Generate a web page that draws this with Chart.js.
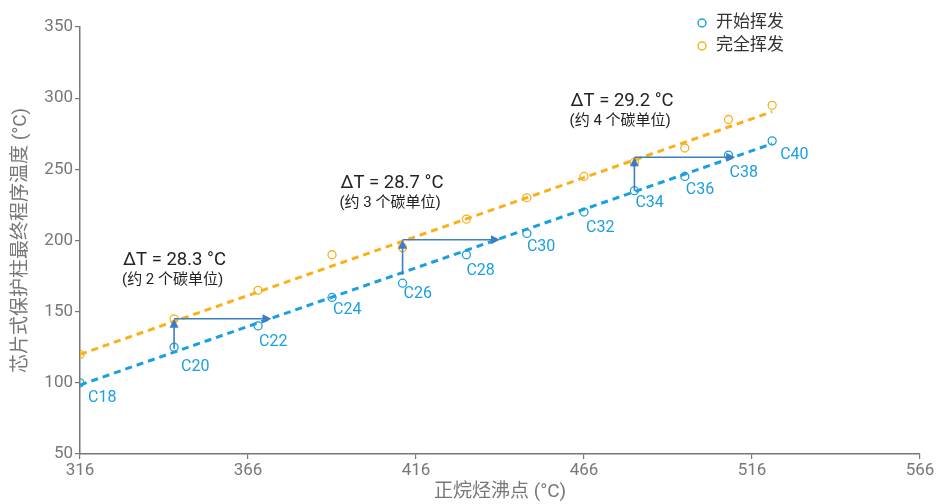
<!DOCTYPE html>
<html>
<head>
<meta charset="utf-8">
<script src="https://cdn.jsdelivr.net/npm/chart.js@4.4.1/dist/chart.umd.min.js"></script>
<style>
html, body { margin: 0; padding: 0; background: #fff; }
#wrap { width: 939px; height: 504px; }
</style>
</head>
<body>
<div id="wrap"><canvas id="c"></canvas></div>
<script>
// data
const carbons = ['C18','C20','C22','C24','C26','C28','C30','C32','C34','C36','C38','C40'];
const boilPts = [316, 344, 369, 391, 412, 431, 449, 466, 481, 496, 509, 522];
const startTemps = [100, 125, 140, 160, 170, 190, 205, 220, 235, 245, 260, 270];
const fullTemps = [120, 145, 165, 190, 195, 215, 230, 245, 255, 265, 285, 295];
const trendX = [316, 522];
const startTrend = [98.5, 268];
const fullTrend = [120, 290.5];
const xTicks = [316, 366, 416, 466, 516, 566];
const yTicks = [50, 100, 150, 200, 250, 300, 350];
const seriesNames = ['开始挥发', '完全挥发'];

// delta T notes
const gapLabels = ['ΔT = 28.3 °C', 'ΔT = 28.7 °C', 'ΔT = 29.2 °C'];
const gapNotes = ['(约 2 个碳单位)', '(约 3 个碳单位)', '(约 4 个碳单位)'];
const arrowX = [344, 412, 481];
const arrowLow = [124, 176, 235];
const arrowHigh = [145, 200.5, 258.5];
const arrowEnd = [373, 441, 511];
const noteX = [328.8, 393.5, 462];
const noteY = [186, 240, 298];

const BLUE = '#1a9fe0';
const ORANGE = '#f9b11b';
const ARROW = '#3c7ec3';
const GREY = '#777';
const FONT = "Roboto, 'Noto Sans CJK SC', sans-serif";

// label nudges (px) for the carbon tags
const labelShift = [[8,15],[7,20],[1,16],[1,13],[1,11],[0,16],[0,14],[2,16],[1,12],[1,14],[1,18],[8,14]];

function arrowHead(ctx, x, y, dir) {
    const L = 9, W = 4.5;
    ctx.beginPath();
    if (dir === 'up') {
        ctx.moveTo(x, y);
        ctx.lineTo(x - W, y + L);
        ctx.lineTo(x + W, y + L);
    } else {
        ctx.moveTo(x, y);
        ctx.lineTo(x - L, y - W);
        ctx.lineTo(x - L, y + W);
    }
    ctx.closePath();
    ctx.fill();
}

const extras = {
    id: 'extras',
    afterDatasetsDraw(chart) {
        const ctx = chart.ctx;
        const xs = chart.scales.x, ys = chart.scales.y;
        ctx.save();

        // arrows
        ctx.strokeStyle = ARROW;
        ctx.fillStyle = ARROW;
        ctx.lineWidth = 1.6;
        for (let i = 0; i < arrowX.length; ++i) {
            const px = xs.getPixelForValue(arrowX[i]);
            const pLow = ys.getPixelForValue(arrowLow[i]);
            const pHigh = ys.getPixelForValue(arrowHigh[i]);
            const pEnd = xs.getPixelForValue(arrowEnd[i]);
            ctx.beginPath();
            ctx.moveTo(px, pLow);
            ctx.lineTo(px, pHigh + 4);
            ctx.moveTo(px, pHigh);
            ctx.lineTo(pEnd - 4, pHigh);
            ctx.stroke();
            arrowHead(ctx, px, pHigh, 'up');
            arrowHead(ctx, pEnd, pHigh, 'right');
        }

        // carbon tags
        ctx.fillStyle = BLUE;
        ctx.font = '16px ' + FONT;
        ctx.textAlign = 'left';
        ctx.textBaseline = 'middle';
        for (let i = 0; i < carbons.length; ++i) {
            const px = xs.getPixelForValue(boilPts[i]);
            const py = ys.getPixelForValue(startTemps[i]);
            ctx.fillText(carbons[i], px + labelShift[i][0], py + labelShift[i][1]);
        }

        // delta T notes
        ctx.fillStyle = '#222';
        for (let i = 0; i < gapLabels.length; ++i) {
            const px = xs.getPixelForValue(noteX[i]);
            const py = ys.getPixelForValue(noteY[i]);
            ctx.font = '18.5px ' + FONT;
            ctx.fillText(gapLabels[i], px, py);
            ctx.font = '15px ' + FONT;
            ctx.fillText(gapNotes[i], px - 1, py + 20);
        }

        // legend
        const lx = chart.chartArea.right - 218;
        const colors = [BLUE, ORANGE];
        ctx.font = '17px ' + FONT;
        ctx.fillStyle = '#333';
        for (let i = 0; i < seriesNames.length; ++i) {
            const ly = 23 + i * 23;
            ctx.beginPath();
            ctx.arc(lx, ly, 4, 0, Math.PI * 2);
            ctx.strokeStyle = colors[i];
            ctx.lineWidth = 1.4;
            ctx.stroke();
            ctx.fillText(seriesNames[i], lx + 14, ly);
        }
        ctx.restore();
    }
};

function axisOpts(lo, hi, ticks, title, fit, titlePad) {
    return {
        type: 'linear',
        min: lo,
        max: hi,
        afterBuildTicks: (s) => { s.ticks = ticks.map((v) => ({value: v})); },
        afterFit: fit,
        ticks: { color: GREY, font: { family: FONT, size: 17 }, padding: 2 },
        grid: { drawOnChartArea: false, drawTicks: true, tickLength: 5, color: GREY, lineWidth: 1.2 },
        border: { color: GREY, width: 1.5 },
        title: { display: true, text: title, color: GREY, font: { family: FONT, size: 19 }, padding: titlePad }
    };
}

new Chart(document.getElementById('c').getContext('2d'), {
    type: 'scatter',
    data: {
        datasets: [
            {
                label: seriesNames[0],
                data: boilPts.map((x, i) => ({x: x, y: startTemps[i]})),
                borderColor: BLUE, backgroundColor: 'rgba(0,0,0,0)',
                pointRadius: 4, borderWidth: 1.3
            },
            {
                label: seriesNames[1],
                data: boilPts.map((x, i) => ({x: x, y: fullTemps[i]})),
                borderColor: ORANGE, backgroundColor: 'rgba(0,0,0,0)',
                pointRadius: 4, borderWidth: 1.3
            },
            {
                data: trendX.map((x, i) => ({x: x, y: startTrend[i]})),
                showLine: true, borderColor: BLUE, borderWidth: 3,
                borderDash: [7, 5], pointRadius: 0
            },
            {
                data: trendX.map((x, i) => ({x: x, y: fullTrend[i]})),
                showLine: true, borderColor: ORANGE, borderWidth: 3,
                borderDash: [7, 5], pointRadius: 0
            }
        ]
    },
    options: {
        responsive: true,
        maintainAspectRatio: false,
        animation: false,
        layout: { padding: { top: 27, right: 19, left: 0, bottom: 0 } },
        plugins: { legend: { display: false }, tooltip: { enabled: false } },
        scales: {
            x: axisOpts(316, 566, xTicks, '正烷烃沸点 (°C)', (s) => { s.height = 50; }, {top: 0, bottom: 0}),
            y: axisOpts(50, 350, yTicks, '芯片式保护柱最终程序温度 (°C)', (s) => { s.width = 80; }, {top: 10, bottom: 0})
        }
    },
    plugins: [extras]
});
</script>
</body>
</html>
